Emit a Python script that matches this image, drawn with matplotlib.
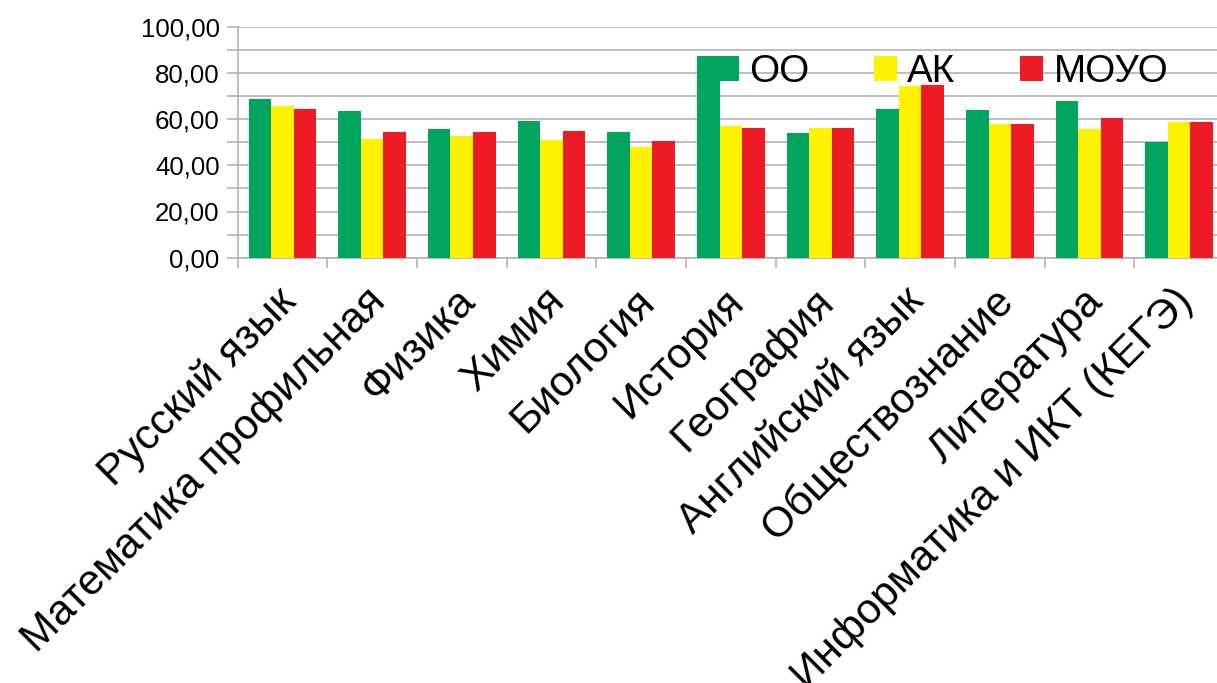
import matplotlib
matplotlib.use("Agg")
import matplotlib.pyplot as plt
import numpy as np
from matplotlib.transforms import ScaledTranslation
from matplotlib.ticker import FixedLocator, FuncFormatter

plt.rcParams['font.family'] = ['Liberation Sans', 'DejaVu Sans']

categories = ["Русский язык", "Математика профильная", "Физика", "Химия", "Биология",
              "История", "География", "Английский язык", "Обществознание", "Литература",
              "Информатика и ИКТ (КЕГЭ)"]
series_names = ["ОО", "АК", "МОУО"]
oo = [68.7, 63.5, 55.7, 59.2, 54.4, 87.3, 54.0, 64.4, 63.9, 67.8, 50.1]
ak = [65.7, 51.4, 52.7, 51.0, 47.9, 57.0, 56.2, 74.3, 57.9, 55.7, 58.8]
moyo = [64.4, 54.4, 54.4, 54.8, 50.5, 56.2, 56.2, 74.8, 57.9, 60.5, 58.8]
colors = ["#00A65D", "#FFF200", "#ED1C24"]

W, H = 1217, 683
fig = plt.figure(figsize=(W / 100, H / 100), dpi=100)
left, right, top, bottom = 237.6, 1224.0, 26.7, 257.7
ax = fig.add_axes([left / W, 1 - bottom / H, (right - left) / W, (bottom - top) / H])

n = len(categories)
x = np.arange(n)
bw = 0.252
for i, (vals, c, name) in enumerate(zip([oo, ak, moyo], colors, series_names)):
    ax.bar(x + (i - 1) * bw, vals, width=bw, color=c, label=name, zorder=3)

ax.set_xlim(-0.5, n - 0.5)
ax.set_ylim(0, 100)

grid_c = "#b3b3b3"
ax.yaxis.set_major_locator(FixedLocator([0, 20, 40, 60, 80, 100]))
ax.yaxis.set_minor_locator(FixedLocator([10, 30, 50, 70, 90]))
ax.yaxis.set_major_formatter(FuncFormatter(lambda v, p: f"{v:.2f}".replace(".", ",")))
ax.grid(axis='y', which='both', color=grid_c, linewidth=1.2, zorder=0)
ax.tick_params(axis='y', which='both', length=8, width=1.2, color=grid_c, pad=5,
               labelsize=18.6, labelcolor='black')

# x ticks: labels at centers, tick marks at boundaries
ax.set_xticks(x)
ax.set_xticklabels(categories, rotation=45, ha='right', va='center',
                   rotation_mode='anchor', fontsize=30.5)
ax.tick_params(axis='x', which='major', length=0, pad=27)
ax.xaxis.set_minor_locator(FixedLocator(np.arange(n + 1) - 0.5))
ax.tick_params(axis='x', which='minor', length=7.5, width=1.2, color=grid_c)
for lab in ax.get_xticklabels():
    lab.set_transform(lab.get_transform() + ScaledTranslation(7 / 100, 0, fig.dpi_scale_trans))

for s in ['top', 'right']:
    ax.spines[s].set_visible(False)
ax.spines['left'].set_color(grid_c)
ax.spines['left'].set_linewidth(1.2)
ax.spines['bottom'].set_color(grid_c)
ax.spines['bottom'].set_linewidth(1.2)

leg = fig.legend(loc='center', bbox_to_anchor=(942 / W, 1 - 72 / H), ncol=3, frameon=False,
                 fontsize=27.8, handlelength=0.6, handleheight=0.6, handletextpad=0.26,
                 columnspacing=1.68, borderpad=0, borderaxespad=0)

fig.savefig("out.png", dpi=100)
